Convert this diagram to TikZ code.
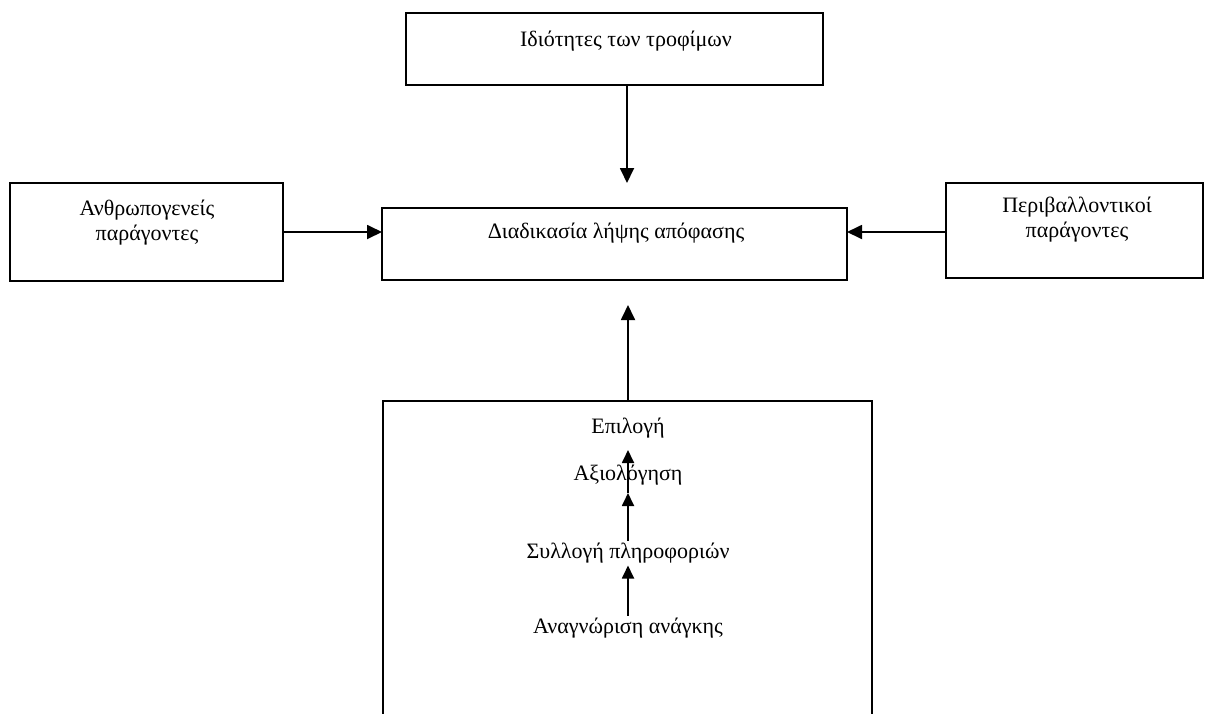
\documentclass[tikz,border=0pt]{standalone}
\usepackage{fontspec}
\setmainfont{Liberation Serif}
\usetikzlibrary{arrows.meta}

\tikzset{
  box/.style={draw, line width=0.9pt, inner sep=0pt, outer sep=0pt},
  lbl/.style={font=\fontsize{11}{12.5}\selectfont, align=center, inner sep=1pt},
  arr/.style={line width=0.9pt, -{Triangle[length=7.5pt, width=7pt]}},
  arrs/.style={line width=0.9pt, -{Triangle[length=6.5pt, width=6pt]}}
}

\begin{document}
\begin{tikzpicture}[x=0.5pt, y=-0.5pt]
    % Moldura
    \useasboundingbox (0,0) rectangle (1205,713);
    \clip (0,0) rectangle (1205,713);

    % Caixas
    \node[box, minimum width=208.5pt, minimum height=36pt] (prop) at (614.5,49) {};
    \node[box, minimum width=232.5pt, minimum height=36pt] (dec) at (614.5,244) {};
    \node[box, minimum width=136.5pt, minimum height=49pt] (anthr) at (146.5,232) {};
    \node[box, minimum width=128.5pt, minimum height=47.5pt] (env) at (1074.5,230.5) {};
    \node[box, minimum width=244.5pt, minimum height=170pt, anchor=north] (proc) at (627.5,401) {};

    % Textos
    \node[lbl] (proptxt) at (626,41) {Ιδιότητες των τροφίμων};
    \node[lbl] (dectxt) at (616,233) {Διαδικασία λήψης απόφασης};
    \node[lbl] (anthrtxt) at (147,223) {Ανθρωπογενείς\\παράγοντες};
    \node[lbl] (envtxt) at (1077,220) {Περιβαλλοντικοί\\παράγοντες};

    % Etapas
    \node[lbl] (epi) at (628,428) {Επιλογή};
    \node[lbl] (axi) at (628,475) {Αξιολόγηση};
    \node[lbl] (syl) at (628,553) {Συλλογή πληροφοριών};
    \node[lbl] (anag) at (628,628) {Αναγνώριση ανάγκης};

    % Setas
    \coordinate (topend) at (627,183);
    \coordinate (botend) at (628,305);
    \coordinate (axitip) at (628,493);
    \coordinate (epitip) at (628,450);
    \draw[arr] (prop.south -| topend) -- (topend);
    \draw[arr] (proc.north -| botend) -- (botend);
    \draw[arr] (anthr.east |- 0,232) -- (dec.west |- 0,232);
    \draw[arr] (env.west |- 0,232) -- (dec.east |- 0,232);

    \draw[arrs] (syl.north -| axitip) -- (axitip);
    \draw[arrs] (axitip) -- (epitip);
    \draw[arrs] (anag.north) -- (syl.south);
\end{tikzpicture}
\end{document}
